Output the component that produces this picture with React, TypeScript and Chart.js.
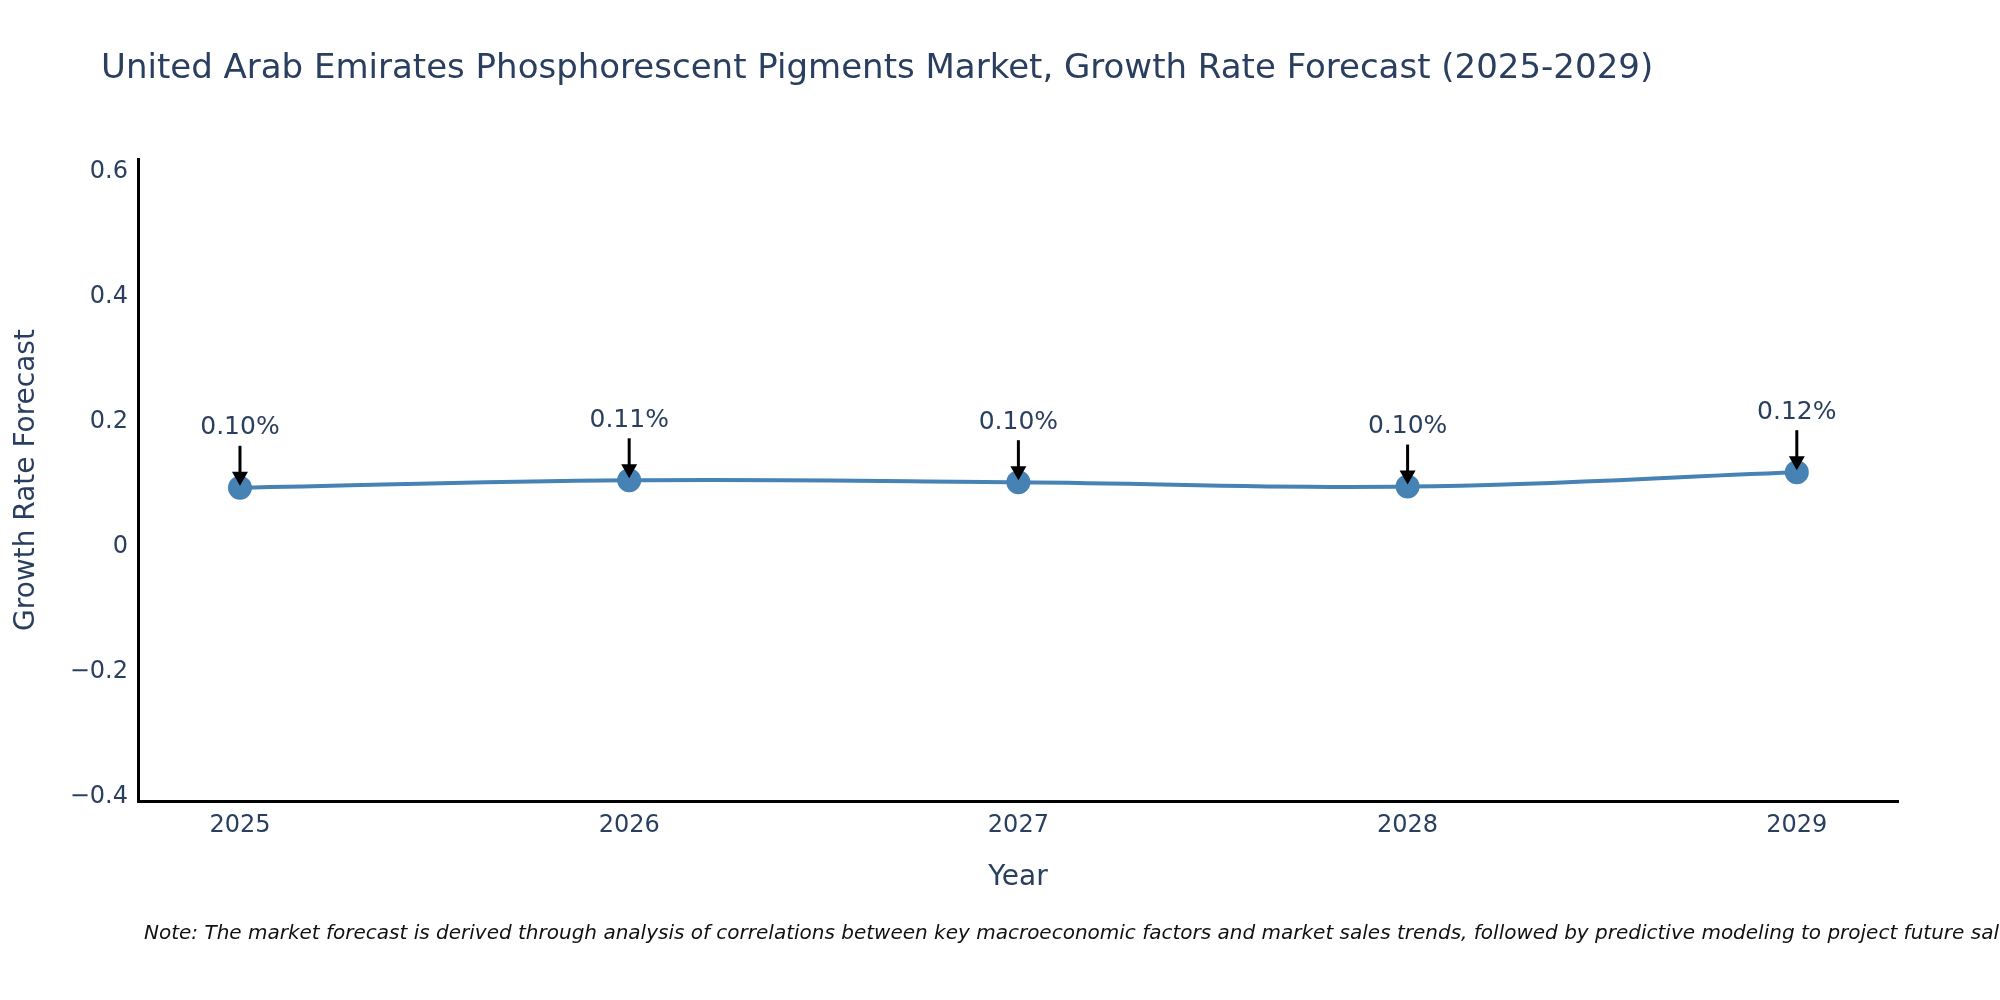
import { useEffect, useRef } from "react";
import { Chart, registerables, type Plugin } from "chart.js";

Chart.register(...registerables);

const FONT = "'DejaVu Sans', Verdana, sans-serif";
const INK = "#2a3f5f";

const TITLE = "United Arab Emirates Phosphorescent Pigments Market, Growth Rate Forecast (2025-2029)";
const NOTE =
  "Note: The market forecast is derived through analysis of correlations between key macroeconomic factors and market sales trends, followed by predictive modeling to project future sales.";

const years = [2025, 2026, 2027, 2028, 2029];
const growth = [0.095, 0.107, 0.104, 0.097, 0.12];
const growthLabels = ["0.10%", "0.11%", "0.10%", "0.10%", "0.12%"];

const yTicks = [-0.4, -0.2, 0, 0.2, 0.4, 0.6];
const yTickLabels = ["\u22120.4", "\u22120.2", "0", "0.2", "0.4", "0.6"];

// title, note and the arrow annotations over each point
const decorations: Plugin<"line"> = {
  id: "decorations",
  afterDatasetsDraw(chart) {
    const { ctx } = chart;
    const xs = chart.scales.x;
    const ys = chart.scales.y;
    ctx.save();

    years.forEach((yr, i) => {
      const px = xs.getPixelForValue(yr);
      const py = ys.getPixelForValue(growth[i]);
      const tail = py - 42;
      const tip = py - 2;
      ctx.strokeStyle = "#000";
      ctx.lineWidth = 3;
      ctx.beginPath();
      ctx.moveTo(px, tail);
      ctx.lineTo(px, tip - 10);
      ctx.stroke();
      ctx.fillStyle = "#000";
      ctx.beginPath();
      ctx.moveTo(px, tip);
      ctx.lineTo(px - 8, tip - 14);
      ctx.lineTo(px + 8, tip - 14);
      ctx.closePath();
      ctx.fill();

      ctx.fillStyle = INK;
      ctx.font = `25px ${FONT}`;
      ctx.textAlign = "center";
      ctx.textBaseline = "middle";
      ctx.fillText(growthLabels[i], px, py - 60);
    });

    ctx.fillStyle = INK;
    ctx.font = `34px ${FONT}`;
    ctx.textAlign = "left";
    ctx.textBaseline = "middle";
    ctx.fillText(TITLE, 101, 69);

    ctx.fillStyle = "#111";
    ctx.font = `italic 20px ${FONT}`;
    ctx.fillText(NOTE, 144, 934);
    ctx.restore();
  },
};

export default function App() {
  const canvasRef = useRef<HTMLCanvasElement | null>(null);

  useEffect(() => {
    if (!canvasRef.current) return;
    const chart = new Chart(canvasRef.current, {
      type: "line",
      data: {
        datasets: [
          {
            label: "Growth Rate Forecast",
            data: years.map((x, i) => ({ x, y: growth[i] })),
            borderColor: "#4682b4",
            backgroundColor: "#4682b4",
            borderWidth: 4,
            pointRadius: 10,
            pointHoverRadius: 10,
            tension: 0.4,
          },
        ],
      },
      options: {
        animation: false,
        responsive: true,
        maintainAspectRatio: false,
        devicePixelRatio: 1,
        layout: { padding: { top: 159, right: 102, bottom: 105, left: 0 } },
        plugins: { legend: { display: false }, tooltip: { enabled: false } },
        scales: {
          x: {
            type: "linear",
            min: 2024.738,
            max: 2029.26,
            afterBuildTicks: (scale) => {
              scale.ticks = years.map((value) => ({ value }));
            },
            afterFit: (scale) => {
              scale.height = 94;
            },
            grid: { display: false, drawTicks: false },
            border: { display: true, color: "#000", width: 3 },
            ticks: {
              padding: 10,
              color: INK,
              font: { family: FONT, size: 24 },
              callback: (v) => String(v),
            },
            title: {
              display: true,
              text: "Year",
              color: INK,
              font: { family: FONT, size: 28 },
              padding: { top: 0, bottom: 0 },
            },
          },
          y: {
            min: -0.406,
            max: 0.621,
            afterBuildTicks: (scale) => {
              scale.ticks = yTicks.map((value) => ({ value }));
            },
            afterFit: (scale) => {
              scale.width = 138;
            },
            grid: { display: false, drawTicks: false },
            border: { display: true, color: "#000", width: 3 },
            ticks: {
              padding: 10,
              color: INK,
              font: { family: FONT, size: 24 },
              callback: (v) => yTickLabels[yTicks.indexOf(Number(v))] ?? String(v),
            },
            title: {
              display: true,
              text: "Growth Rate Forecast",
              color: INK,
              font: { family: FONT, size: 28 },
              padding: { top: 10, bottom: 0 },
            },
          },
        },
      },
      plugins: [decorations],
    });
    return () => chart.destroy();
  }, []);

  return (
    <div style={{ position: "fixed", left: 0, top: 0, width: 2000, height: 1000, background: "#fff" }}>
      <canvas ref={canvasRef} />
    </div>
  );
}
